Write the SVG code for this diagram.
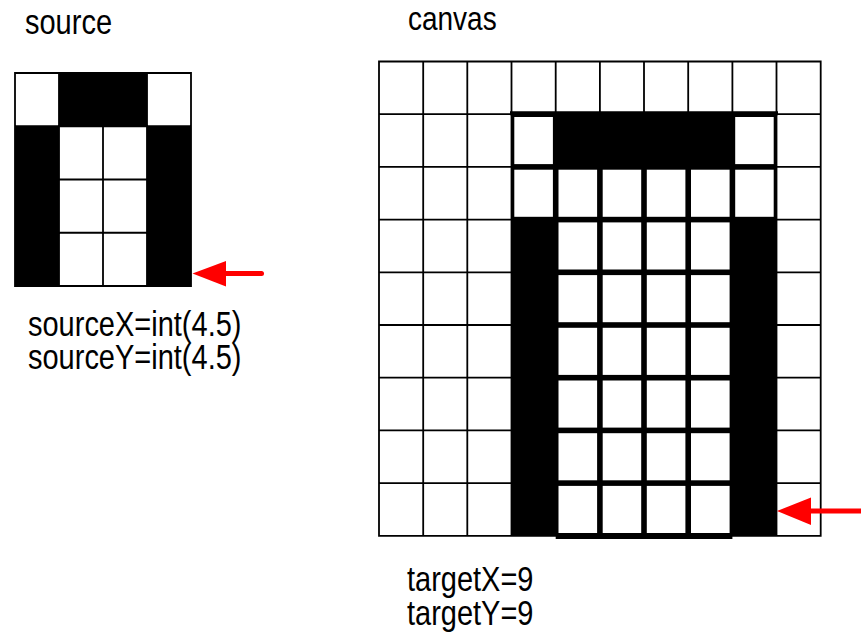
<svg xmlns="http://www.w3.org/2000/svg" width="861" height="634" viewBox="0 0 861 634">
<style>
.thin{fill:none;stroke:#000;stroke-width:1.8}
.blk{fill:#000}
.wht{fill:#fff}
.lbl{font-family:"Liberation Sans",Arial,sans-serif;fill:#000}
.red{fill:#ff0000}
.shaft{stroke:#ff0000;stroke-width:5;stroke-linecap:round;fill:none}
</style>
<rect width="861" height="634" fill="#fff"/>
<g id="source-grid">
<rect x="15" y="73" width="176" height="213" class="wht"/>
<rect x="59" y="73" width="88" height="53.25" class="blk"/>
<rect x="15" y="126.25" width="44" height="159.75" class="blk"/>
<rect x="147" y="126.25" width="44" height="159.75" class="blk"/>
<path class="thin" d="M15 73H191V286H15Z M59 73V286 M147 73V286 M103 126.25V286 M15 126.25H191 M59 179.5H147 M59 232.75H147"/>
</g>
<g id="canvas-grid">
<rect x="379" y="61.5" width="441.7" height="474.3" class="wht"/>
<path class="thin" d="M379 61.5H820.7V535.8H379Z M423.2 61.5V535.8 M467.3 61.5V535.8 M511.5 61.5V535.8 M555.7 61.5V535.8 M599.9 61.5V535.8 M644 61.5V535.8 M688.2 61.5V535.8 M732.4 61.5V535.8 M776.5 61.5V535.8 M379 114.2H820.7 M379 166.9H820.7 M379 219.6H820.7 M379 272.3H820.7 M379 325H820.7 M379 377.7H820.7 M379 430.4H820.7 M379 483.1H820.7"/>
</g>
<g id="canvas-scaled">
<rect x="511.5" y="114.2" width="265" height="421.6" class="blk"/>
<path d="M510 113.2H778" stroke="#000" stroke-width="4" fill="none"/>
<path d="M555.7 537.3H732.4" stroke="#000" stroke-width="3.5" fill="none"/>
<g class="wht">
<rect x="514.3" y="117" width="38.6" height="47.1"/>
<rect x="735.2" y="117" width="38.5" height="47.1"/>
<rect x="514.3" y="169.7" width="38.6" height="47.1"/>
<rect x="558.5" y="169.7" width="38.6" height="47.1"/>
<rect x="602.7" y="169.7" width="38.5" height="47.1"/>
<rect x="646.8" y="169.7" width="38.6" height="47.1"/>
<rect x="691" y="169.7" width="38.6" height="47.1"/>
<rect x="735.2" y="169.7" width="38.5" height="47.1"/>
</g>
<g class="wht" id="inner-cells">
<rect x="558.5" y="222.4" width="38.6" height="47.1"/><rect x="602.7" y="222.4" width="38.5" height="47.1"/><rect x="646.8" y="222.4" width="38.6" height="47.1"/><rect x="691" y="222.4" width="38.6" height="47.1"/>
<rect x="558.5" y="275.1" width="38.6" height="47.1"/><rect x="602.7" y="275.1" width="38.5" height="47.1"/><rect x="646.8" y="275.1" width="38.6" height="47.1"/><rect x="691" y="275.1" width="38.6" height="47.1"/>
<rect x="558.5" y="327.8" width="38.6" height="47.1"/><rect x="602.7" y="327.8" width="38.5" height="47.1"/><rect x="646.8" y="327.8" width="38.6" height="47.1"/><rect x="691" y="327.8" width="38.6" height="47.1"/>
<rect x="558.5" y="380.5" width="38.6" height="47.1"/><rect x="602.7" y="380.5" width="38.5" height="47.1"/><rect x="646.8" y="380.5" width="38.6" height="47.1"/><rect x="691" y="380.5" width="38.6" height="47.1"/>
<rect x="558.5" y="433.2" width="38.6" height="47.1"/><rect x="602.7" y="433.2" width="38.5" height="47.1"/><rect x="646.8" y="433.2" width="38.6" height="47.1"/><rect x="691" y="433.2" width="38.6" height="47.1"/>
<rect x="558.5" y="485.9" width="38.6" height="47.1"/><rect x="602.7" y="485.9" width="38.5" height="47.1"/><rect x="646.8" y="485.9" width="38.6" height="47.1"/><rect x="691" y="485.9" width="38.6" height="47.1"/>
</g>
</g>
<g id="connectors">
<path class="shaft" d="M222 273.5H261.5"/>
<polygon class="red" points="192.5,273.5 226,261 226,286.5"/>
<path class="shaft" d="M808 511H861"/>
<polygon class="red" points="777,511 811,497.5 811,525"/>
</g>
<g id="labels" class="lbl">
<text transform="translate(25,34) scale(1,1.2)" font-size="29">source</text>
<text transform="translate(408,30) scale(1,1.2)" font-size="28">canvas</text>
<text transform="translate(28,336) scale(1,1.22)" font-size="29">sourceX=int(4.5)</text>
<text transform="translate(28,369) scale(1,1.22)" font-size="29">sourceY=int(4.5)</text>
<text transform="translate(407,591) scale(1,1.22)" font-size="29">targetX=9</text>
<text transform="translate(407,625) scale(1,1.22)" font-size="29">targetY=9</text>
</g>
</svg>
